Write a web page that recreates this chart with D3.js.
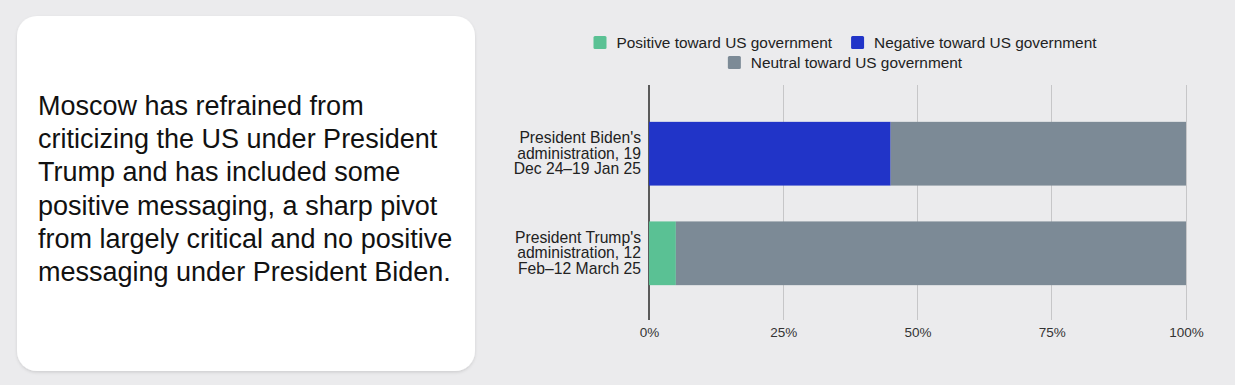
<!DOCTYPE html>
<html>
<head>
<meta charset="utf-8">
<script src="https://cdn.jsdelivr.net/npm/d3@7"></script>
<style>
  html, body { margin: 0; padding: 0; background: #ebebed; }
  svg { display: block; }
  text { font-family: "Liberation Sans", Arial, Helvetica, sans-serif; }
</style>
</head>
<body>
<svg id="chart" width="1235" height="385"></svg>
<script>
// ---- Data ----
const categories = [
  ["President Biden's", "administration, 19", "Dec 24\u201319 Jan 25"],
  ["President Trump's", "administration, 12", "Feb\u201312 March 25"]
];
const categoryIds = ["biden", "trump"];
const positiveValues = [0, 5];
const negativeValues = [45, 0];
const neutralValues = [55, 95];
const seriesKeys = ["positive", "negative", "neutral"];
const seriesLabels = ["Positive toward US government", "Negative toward US government", "Neutral toward US government"];
const seriesColors = ["#5ac194", "#2134c8", "#7c8a96"];
const tickValues = [0, 25, 50, 75, 100];
const tickLabels = ["0%", "25%", "50%", "75%", "100%"];
const noteLines = [
  "Moscow has refrained from",
  "criticizing the US under President",
  "Trump and has included some",
  "positive messaging, a sharp pivot",
  "from largely critical and no positive",
  "messaging under President Biden."
];

const svg = d3.select("#chart");

// ---- Card with note ----
const defs = svg.append("defs");
const f = defs.append("filter").attr("id", "shadow").attr("x", "-10%").attr("y", "-10%").attr("width", "120%").attr("height", "120%");
f.append("feDropShadow").attr("dx", 0).attr("dy", 1.5).attr("stdDeviation", 1.5).attr("flood-color", "#000").attr("flood-opacity", 0.12);

svg.append("rect")
  .attr("x", 17).attr("y", 16).attr("width", 458).attr("height", 355)
  .attr("rx", 20).attr("fill", "#ffffff").attr("filter", "url(#shadow)");

const note = svg.append("text")
  .attr("x", 38).attr("y", 115)
  .attr("font-size", 27).attr("fill", "#111");
note.selectAll("tspan").data(noteLines).join("tspan")
  .attr("x", 38).attr("dy", (d, i) => i === 0 ? 0 : 33.2)
  .text(d => d);

// ---- Scales ----
const x = d3.scaleLinear().domain([0, 100]).range([649, 1186]);
const y = d3.scaleBand().domain(categoryIds).range([85, 322]).paddingInner(0.36).paddingOuter(0.37);

// ---- Grid ----
const grid = svg.append("g");
grid.selectAll("line").data(tickValues).join("line")
  .attr("x1", d => x(d)).attr("x2", d => x(d))
  .attr("y1", 85).attr("y2", 320)
  .attr("stroke", d => d === 0 ? "#5a5a5a" : "#c6c6c8")
  .attr("stroke-width", d => d === 0 ? 1.5 : 1)
  .attr("shape-rendering", "crispEdges");

// ---- Bars ----
const rows = categoryIds.map((id, i) => ({
  id, positive: positiveValues[i], negative: negativeValues[i], neutral: neutralValues[i]
}));
const stacked = d3.stack().keys(seriesKeys)(rows);

svg.append("g").selectAll("g").data(stacked).join("g")
  .attr("fill", (d, i) => seriesColors[i])
  .selectAll("rect").data(d => d).join("rect")
  .attr("x", d => x(d[0]))
  .attr("y", d => y(d.data.id))
  .attr("width", d => Math.max(0, x(d[1]) - x(d[0])))
  .attr("height", y.bandwidth());

// ---- X axis labels ----
const xAxis = d3.axisBottom(x).tickValues(tickValues).tickSize(0).tickPadding(0)
  .tickFormat((d, i) => tickLabels[i]);
const xg = svg.append("g").attr("transform", "translate(0,327)").call(xAxis);
xg.select(".domain").remove();
xg.selectAll("text").attr("font-size", 13.5).attr("fill", "#333")
  .attr("font-family", "'Liberation Sans', Arial, sans-serif");

// ---- Y labels ----
const yl = svg.append("g");
categoryIds.forEach((id, i) => {
  const cy = y(id) + y.bandwidth() / 2 - 1;
  const t = yl.append("text")
    .attr("text-anchor", "end").attr("font-size", 15.7).attr("fill", "#222")
    .attr("dominant-baseline", "central");
  categories[i].forEach((line, j) => {
    t.append("tspan").attr("x", 641).attr("y", cy + (j - 1) * 15.6).text(line);
  });
});

// ---- Legend ----
const legendRows = [[0, 1], [2]];
const legendY = [42.5, 62.5];
const legendCenter = 845;
legendRows.forEach((row, r) => {
  const g = svg.append("g");
  let cx = 0;
  row.forEach((si, k) => {
    const item = g.append("g").attr("transform", `translate(${cx},0)`);
    item.append("rect").attr("x", 0).attr("y", legendY[r] - 6.5).attr("width", 13).attr("height", 13)
      .attr("rx", 1.5).attr("fill", seriesColors[si]);
    const t = item.append("text").attr("x", 23).attr("y", legendY[r])
      .attr("dominant-baseline", "central").attr("font-size", 15.4).attr("fill", "#222")
      .text(seriesLabels[si]);
    cx += 23 + t.node().getComputedTextLength() + 19;
  });
  const total = cx - 19;
  g.attr("transform", `translate(${legendCenter - total / 2},0)`);
});
</script>
</body>
</html>
